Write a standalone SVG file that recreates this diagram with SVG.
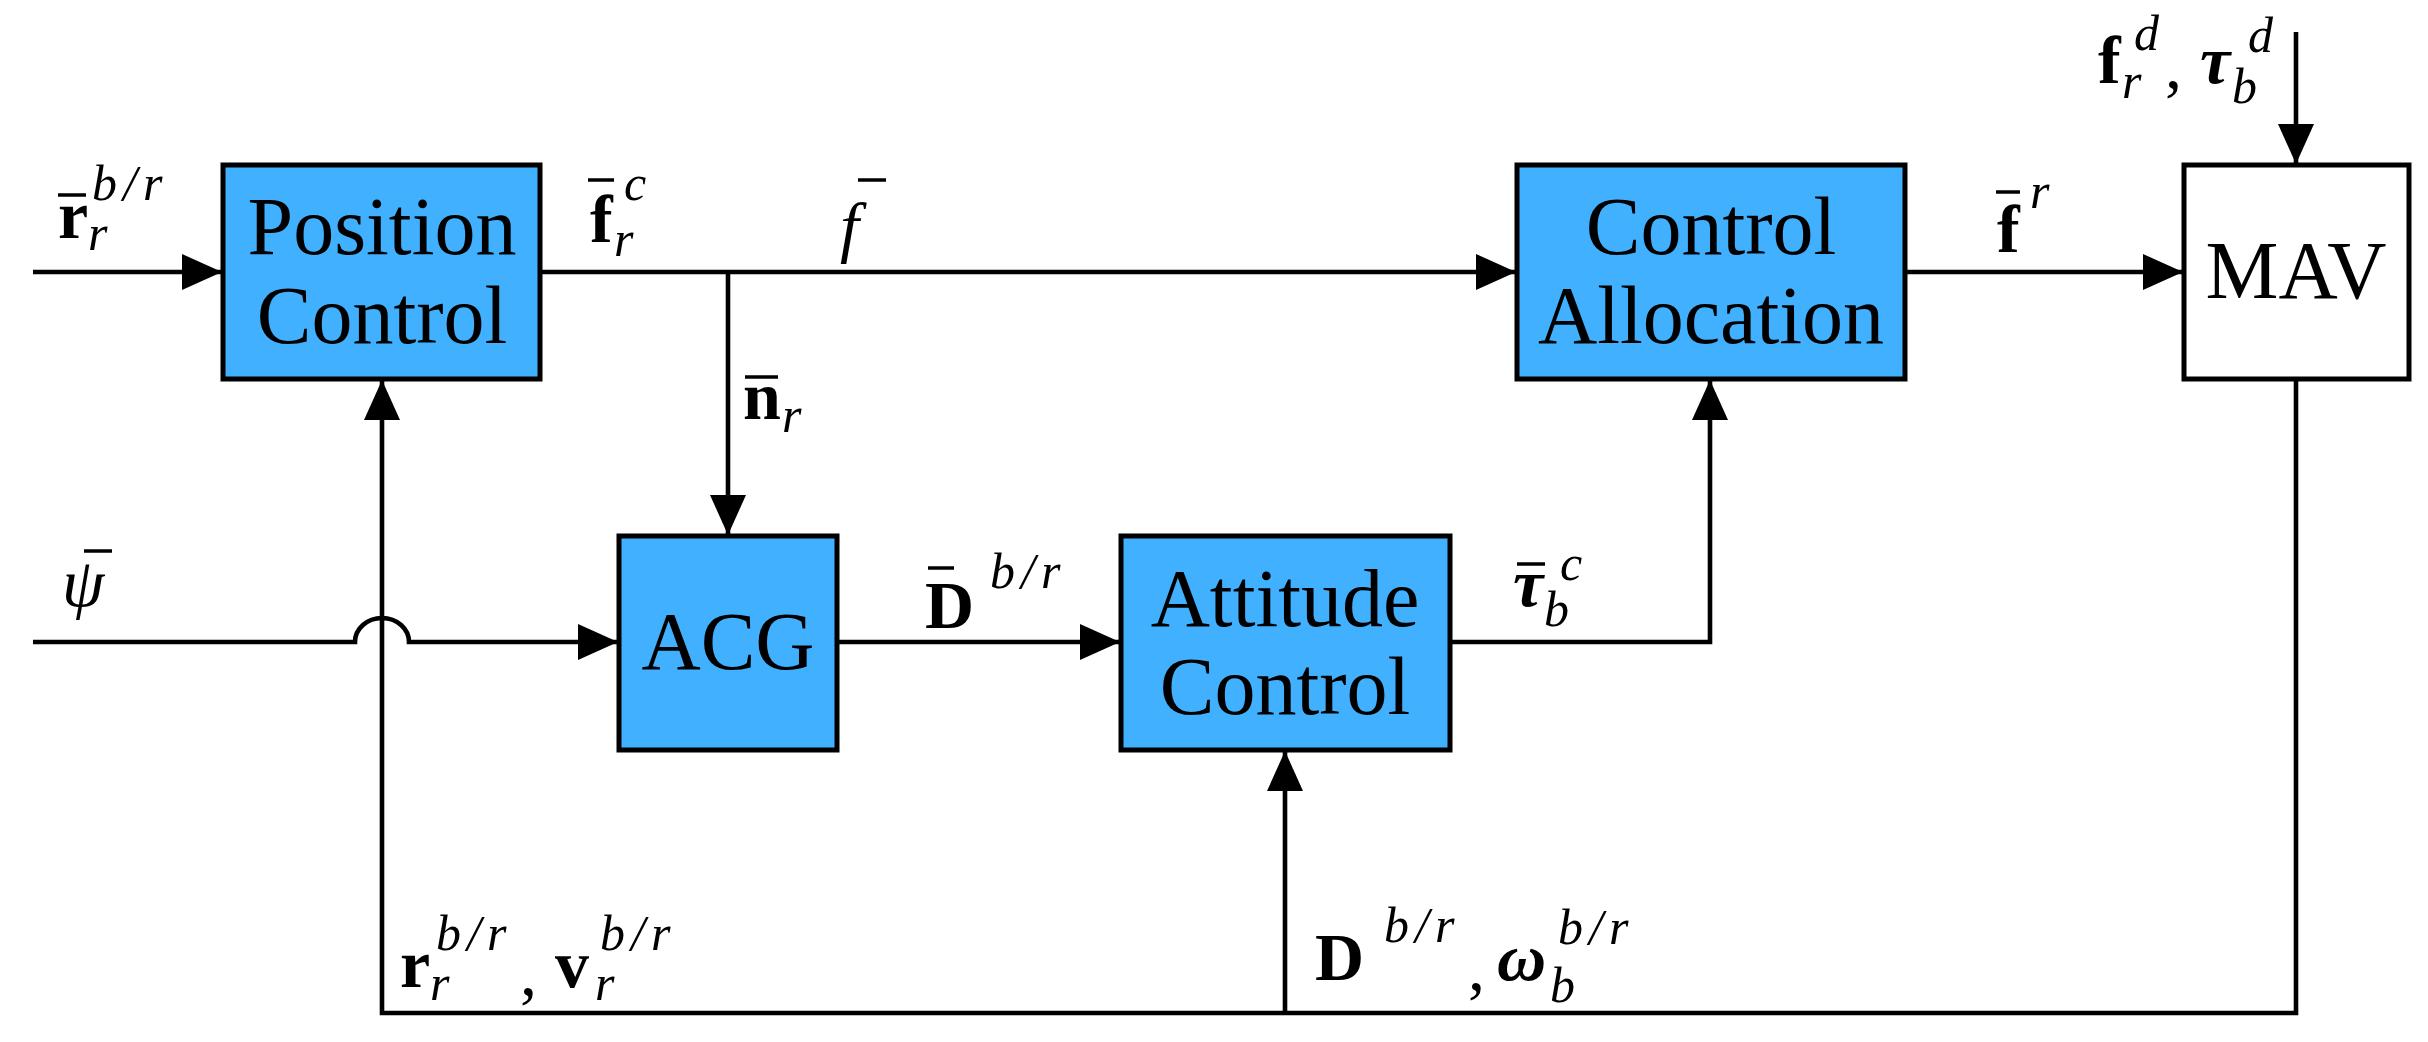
<svg xmlns="http://www.w3.org/2000/svg" width="2428" height="1042" viewBox="0 0 2428 1042">
<style>
.blk{fill:#40b0ff;stroke:#000;stroke-width:5}
.wht{fill:#fff;stroke:#000;stroke-width:5}
.ln{fill:none;stroke:#000;stroke-width:4.6}
.bar{stroke:#000;stroke-width:3.5}
.t{font-family:"Liberation Serif",serif;font-size:82px;text-anchor:middle}
.m{font-family:"Liberation Serif",serif;font-size:68px}
.b{font-weight:bold}
.i{font-style:italic}
.s{font-size:50px;font-style:italic;font-weight:normal}
.w{letter-spacing:6px}
</style>
<defs>
<marker id="ah" markerWidth="40" markerHeight="36" refX="39" refY="18" orient="auto" markerUnits="userSpaceOnUse">
<path d="M0,0 L40,18 L0,36 z" fill="#000"/>
</marker>
</defs>
<g id="connectors">
<path class="ln" d="M33,272 H221" marker-end="url(#ah)"/>
<path class="ln" d="M540,272 H1515" marker-end="url(#ah)"/>
<path class="ln" d="M728,272 V534" marker-end="url(#ah)"/>
<path class="ln" d="M33,642 H355 A27,24 0 0 1 409,642 H617" marker-end="url(#ah)"/>
<path class="ln" d="M837,642 H1119" marker-end="url(#ah)"/>
<path class="ln" d="M1450,642 H1710 V381" marker-end="url(#ah)"/>
<path class="ln" d="M1905,272 H2182" marker-end="url(#ah)"/>
<path class="ln" d="M2296,32 V163" marker-end="url(#ah)"/>
<path class="ln" d="M2296,379 V1013 H382 V381" marker-end="url(#ah)"/>
<path class="ln" d="M1285,1013 V752" marker-end="url(#ah)"/>
</g>
<g id="position-control"><rect class="blk" x="223" y="165" width="317" height="214"/>
<text class="t" x="382" y="254">Position</text><text class="t" x="382" y="343">Control</text></g>
<g id="acg"><rect class="blk" x="619" y="536" width="218" height="214"/>
<text class="t" x="728" y="669">ACG</text></g>
<g id="attitude-control"><rect class="blk" x="1121" y="536" width="329" height="214"/>
<text class="t" x="1285" y="626">Attitude</text><text class="t" x="1285" y="714">Control</text></g>
<g id="control-allocation"><rect class="blk" x="1517" y="165" width="388" height="214"/>
<text class="t" x="1711" y="254">Control</text><text class="t" x="1711" y="343">Allocation</text></g>
<g id="mav"><rect class="wht" x="2184" y="165" width="225" height="214"/>
<text class="t" x="2296" y="298">MAV</text></g>
<g id="labels">
<text class="m"><tspan class="b" x="58" y="238">r</tspan><tspan class="s" x="88" y="250">r</tspan><tspan class="s w" x="92" y="200">b/r</tspan></text>
<line class="bar" x1="58" y1="195" x2="86" y2="195"/>
<text class="m"><tspan class="b" x="590" y="242">f</tspan><tspan class="s" x="614" y="256">r</tspan><tspan class="s" x="624" y="200">c</tspan></text>
<line class="bar" x1="588" y1="180" x2="614" y2="180"/>
<text class="m i" x="840" y="250">f</text>
<line class="bar" x1="858" y1="180" x2="886" y2="180"/>
<text class="m"><tspan class="b" x="743" y="419">n</tspan><tspan class="s" x="782" y="432">r</tspan></text>
<line class="bar" x1="745" y1="377" x2="778" y2="377"/>
<text class="m i" x="62" y="606">ψ</text>
<line class="bar" x1="84" y1="551" x2="112" y2="551"/>
<text class="m"><tspan class="b" x="925" y="628">D</tspan><tspan class="s w" x="990" y="588">b/r</tspan></text>
<line class="bar" x1="928" y1="568" x2="954" y2="568"/>
<text class="m"><tspan class="b i" x="1513" y="606">τ</tspan><tspan class="s" x="1544" y="626">b</tspan><tspan class="s" x="1560" y="580">c</tspan></text>
<line class="bar" x1="1517" y1="564" x2="1545" y2="564"/>
<text class="m"><tspan class="b" x="1997" y="252">f</tspan><tspan class="s" x="2030" y="208">r</tspan></text>
<line class="bar" x1="1996" y1="192" x2="2020" y2="192"/>
<text class="m"><tspan class="b" x="2098" y="83">f</tspan><tspan class="s" x="2122" y="98">r</tspan><tspan class="s" x="2134" y="50">d</tspan><tspan x="2165" y="88">,</tspan><tspan class="b i" x="2200" y="83">τ</tspan><tspan class="s" x="2232" y="103">b</tspan><tspan class="s" x="2248" y="52">d</tspan></text>
<text class="m"><tspan class="b" x="400" y="987">r</tspan><tspan class="s" x="430" y="1000">r</tspan><tspan class="s w" x="436" y="950">b/r</tspan><tspan x="520" y="995">,</tspan><tspan class="b" x="555" y="987">v</tspan><tspan class="s" x="595" y="1000">r</tspan><tspan class="s w" x="600" y="950">b/r</tspan></text>
<text class="m"><tspan class="b" x="1315" y="980">D</tspan><tspan class="s w" x="1384" y="942">b/r</tspan><tspan x="1468" y="990">,</tspan><tspan class="b i" x="1497" y="980">ω</tspan><tspan class="s" x="1550" y="1002">b</tspan><tspan class="s w" x="1558" y="944">b/r</tspan></text>
</g>
</svg>
